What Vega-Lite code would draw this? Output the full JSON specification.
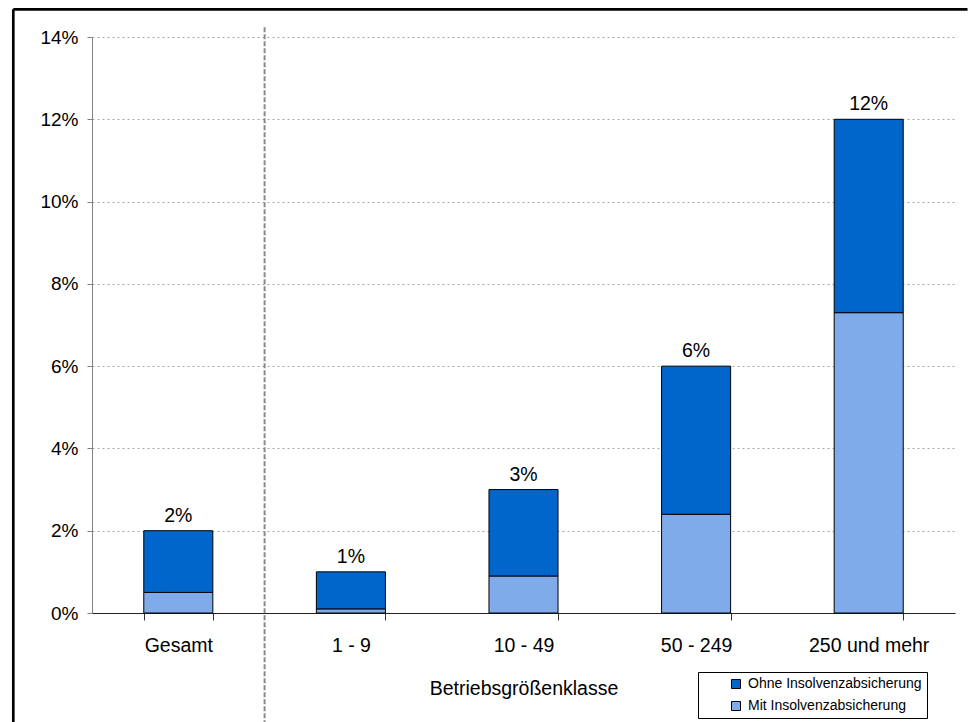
{
  "$schema": "https://vega.github.io/schema/vega-lite/v6.json",
  "width": 863,
  "height": 576,
  "autosize": {"type": "none"},
  "padding": {"left": 92, "top": 37, "right": 13, "bottom": 109},
  "background": "white",
  "config": {"font": "Liberation Sans", "view": {"stroke": null}},
  "datasets": {
    "bars": [
      {"cat": "Gesamt", "typ": "Mit Insolvenzabsicherung", "value": 0.005},
      {"cat": "Gesamt", "typ": "Ohne Insolvenzabsicherung", "value": 0.015},
      {"cat": "1 - 9", "typ": "Mit Insolvenzabsicherung", "value": 0.001},
      {"cat": "1 - 9", "typ": "Ohne Insolvenzabsicherung", "value": 0.009},
      {"cat": "10 - 49", "typ": "Mit Insolvenzabsicherung", "value": 0.009},
      {"cat": "10 - 49", "typ": "Ohne Insolvenzabsicherung", "value": 0.021},
      {"cat": "50 - 249", "typ": "Mit Insolvenzabsicherung", "value": 0.024},
      {"cat": "50 - 249", "typ": "Ohne Insolvenzabsicherung", "value": 0.036},
      {"cat": "250 und mehr", "typ": "Mit Insolvenzabsicherung", "value": 0.073},
      {"cat": "250 und mehr", "typ": "Ohne Insolvenzabsicherung", "value": 0.047}
    ],
    "divider": [{"pos": 0.2, "top": 0.1424, "bottom": -0.0265}],
    "frame": [
      {"x": -0.0912, "x2": 1.0145, "y": 0.14673, "y2": 0.14673},
      {"x": -0.0912, "x2": -0.0912, "y": 0.14673, "y2": -0.0265}
    ]
  },
  "resolve": {"scale": {"x": "independent"}, "axis": {"x": "independent"}},
  "layer": [
    {
      "data": {"name": "frame"},
      "mark": {"type": "rule", "stroke": "black", "strokeWidth": 2.7, "clip": false},
      "encoding": {
        "x": {"field": "x", "type": "quantitative", "scale": {"domain": [0, 1], "nice": false, "zero": false}, "axis": null},
        "x2": {"field": "x2"},
        "y": {"field": "y", "type": "quantitative", "scale": {"domain": [0, 0.14], "nice": false}},
        "y2": {"field": "y2"}
      }
    },
    {
      "data": {"name": "divider"},
      "mark": {"type": "rule", "stroke": "#8a8a8a", "strokeWidth": 2, "strokeDash": [5, 2], "clip": false},
      "encoding": {
        "x": {"field": "pos", "type": "quantitative", "scale": {"domain": [0, 1], "nice": false, "zero": false}, "axis": null},
        "y": {"field": "top", "type": "quantitative", "scale": {"domain": [0, 0.14], "nice": false}},
        "y2": {"field": "bottom"}
      }
    },
    {
      "data": {"name": "bars"},
      "encoding": {
        "x": {
          "field": "cat",
          "type": "nominal",
          "sort": ["Gesamt", "1 - 9", "10 - 49", "50 - 249", "250 und mehr"],
          "scale": {"paddingInner": 0.6, "paddingOuter": 0.3},
          "axis": {
            "title": "Betriebsgrößenklasse",
            "titleFontSize": 19.5,
            "titleFontWeight": "normal",
            "titleColor": "black",
            "titlePadding": 25,
            "labelFontSize": 19.5,
            "labelColor": "black",
            "labelAngle": 0,
            "labelPadding": 16,
            "tickBand": "extent",
            "tickSize": 7,
            "tickColor": "#333333",
            "domainColor": "#222222",
            "grid": false
          }
        }
      },
      "layer": [
        {
          "mark": {"type": "bar", "stroke": "black", "strokeWidth": 1},
          "encoding": {
            "y": {
              "field": "value",
              "type": "quantitative",
              "stack": "zero",
              "scale": {"domain": [0, 0.14], "nice": false},
              "axis": {
                "title": null,
                "format": ".0%",
                "values": [0, 0.02, 0.04, 0.06, 0.08, 0.1, 0.12, 0.14],
                "labelFontSize": 19,
                "labelColor": "black",
                "tickSize": 5,
                "labelPadding": 9,
                "domainColor": "#808080",
                "tickColor": "#808080",
                "gridColor": "#a6a6a6",
                "gridDash": [2, 3],
                "gridWidth": 1
              }
            },
            "color": {
              "field": "typ",
              "type": "nominal",
              "scale": {
                "domain": ["Ohne Insolvenzabsicherung", "Mit Insolvenzabsicherung"],
                "range": ["#0066CC", "#80abea"]
              },
              "legend": {
                "title": null,
                "orient": "none",
                "legendX": 606,
                "legendY": 635,
                "direction": "vertical",
                "symbolType": "square",
                "symbolSize": 81,
                "symbolStrokeColor": "black",
                "symbolStrokeWidth": 1,
                "labelFontSize": 14,
                "labelColor": "black",
                "labelOffset": 5,
                "labelLimit": 400,
                "strokeColor": "black",
                "fillColor": "white",
                "padding": 5,
                "symbolOffset": 26,
                "rowPadding": 8
              }
            },
            "order": {"field": "typ", "sort": "ascending"}
          }
        },
        {
          "mark": {"type": "text", "baseline": "alphabetic", "dy": -9, "fontSize": 19.5, "color": "black"},
          "encoding": {
            "y": {"aggregate": "sum", "field": "value", "type": "quantitative"},
            "text": {"aggregate": "sum", "field": "value", "type": "quantitative", "format": ".0%"}
          }
        }
      ]
    }
  ]
}
